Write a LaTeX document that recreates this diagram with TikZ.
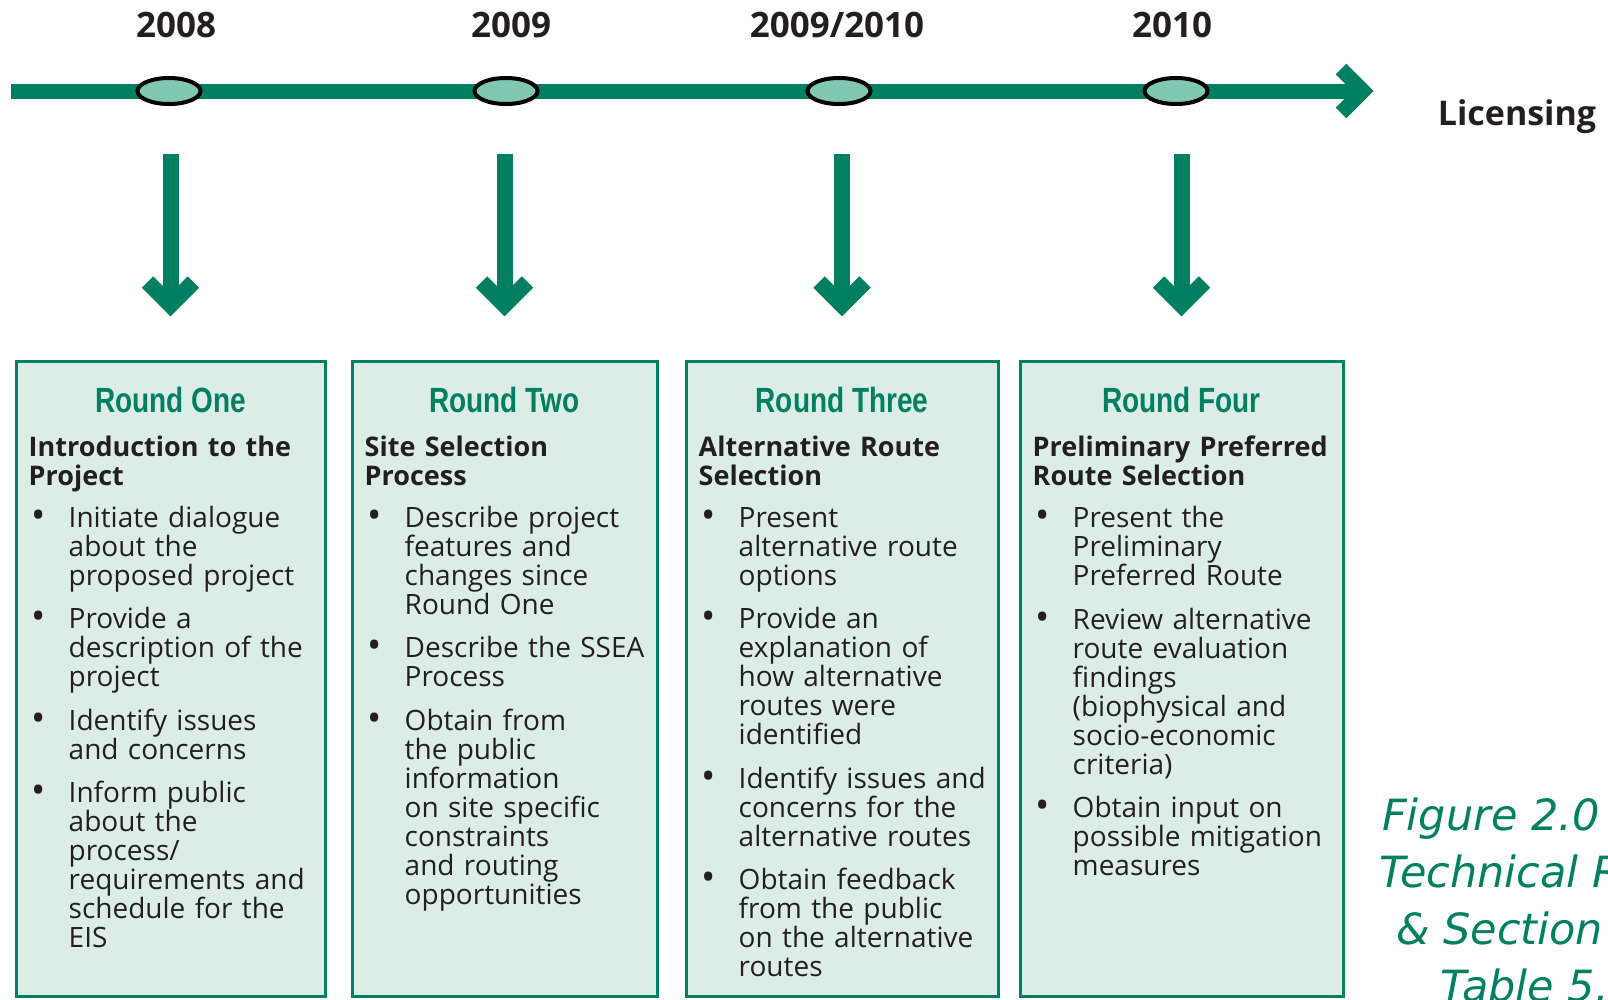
\documentclass[tikz,border=0pt]{standalone}
\usepackage{fontspec}
\setmainfont{Open Sans}
\newfontfamily\condfont[FakeStretch=0.8]{Liberation Sans}
\newfontfamily\capfont{DejaVu Sans}
\usetikzlibrary{positioning,shapes.geometric}
\definecolor{routegreen}{RGB}{0,128,96}
\definecolor{markfill}{RGB}{127,199,176}
\definecolor{panelfill}{RGB}{220,237,231}
\definecolor{inkgray}{RGB}{35,31,32}

% panel text: bold heading, then bullets with a hanging block
\newcommand{\rndhead}[1]{{\fontsize{27}{29}\selectfont\bfseries #1\par}\vspace{13pt}}
\newcommand{\rnditem}[1]{\noindent
	\makebox[40pt][l]{\hspace{3pt}\raisebox{-1pt}{\fontsize{38}{29}\selectfont\textbullet}}%
	\parbox[t]{262pt}{\raggedright #1\strut}\par\vspace{12.3pt}}

\tikzset{
	timeline/.style={draw=routegreen,line width=15pt},
	downarrow/.style={draw=routegreen,line width=16pt,line join=miter},
	marker/.style={shape=ellipse,draw=black,fill=markfill,line width=4pt,
				   minimum width=63pt,minimum height=26pt,inner sep=0pt},
	year/.style={text=inkgray,font=\fontsize{35}{40}\selectfont\bfseries,inner sep=0pt},
	panel/.style={shape=rectangle,draw=routegreen,fill=panelfill,line width=3pt,
				  anchor=north west,minimum height=635pt,inner sep=0pt},
	rndtitle/.style={text=routegreen,font=\condfont\bfseries\fontsize{35}{40}\selectfont,inner sep=0pt},
	rndtext/.style={text=inkgray,font=\fontsize{28}{29}\selectfont,align=left,inner sep=0pt},
	caption/.style={text=routegreen,font=\capfont\itshape\fontsize{43}{50}\selectfont,
					anchor=base west,inner sep=0pt}
}

\begin{document}
\begin{tikzpicture}[x=1pt,y=1pt]
		\clip (0,0) rectangle (1608,-999);

		% time axis with its open head
		\coordinate (axstart) at (11,-91);
		\coordinate (axend) at (1363,-91);
		\draw[timeline] (axstart) -- (axend);
		\draw[timeline,line join=miter] ([shift={(-22,22)}]axend) -- (axend) -- ([shift={(-22,-22)}]axend);

		\node[marker] (mk1) at (169,-91) {};
		\node[marker] (mk2) at (506,-91) {};
		\node[marker] (mk3) at (839,-91) {};
		\node[marker] (mk4) at (1176,-91) {};

		\node[year] (yr1) at (176,-25) {2008};
		\node[year] (yr2) at (511,-25) {2009};
		\node[year] (yr3) at (837,-25) {2009/2010};
		\node[year] (yr4) at (1172,-25) {2010};
		\node[year,font=\fontsize{34}{40}\selectfont\bfseries] (lic) at (1517,-117) {Licensing};

		% the four rounds
		\node[panel,minimum width=309pt] (box1) at (14.5,-360) {};
		\node[panel,minimum width=305pt] (box2) at (350.5,-360) {};
		\node[panel,minimum width=312pt] (box3) at (684.5,-360) {};
		\node[panel,minimum width=323pt] (box4) at (1018.5,-360) {};

		\node[rndtitle] (ttl1) at ([yshift=-40pt]box1.north) {Round One};
		\node[rndtitle] (ttl2) at ([yshift=-40pt]box2.north) {Round Two};
		\node[rndtitle] (ttl3) at ([yshift=-40pt]box3.north) {Round Three};
		\node[rndtitle] (ttl4) at ([yshift=-40pt]box4.north) {Round Four};

		\node[rndtext,text width=294pt,below right=76pt and 14pt of box1.north west] (txt1) {%
			\rndhead{Introduction to the\\Project}
			\rnditem{Initiate dialogue\\about the\\proposed project}
			\rnditem{Provide a\\description of the\\project}
			\rnditem{Identify issues\\and concerns}
			\rnditem{Inform public\\about the\\process/\\requirements and\\schedule for the\\EIS}};
		\node[rndtext,text width=290pt,below right=76pt and 14pt of box2.north west] (txt2) {%
			\rndhead{Site Selection\\Process}
			\rnditem{Describe project\\features and\\changes since\\Round One}
			\rnditem{Describe the SSEA\\Process}
			\rnditem{Obtain from\\the public\\information\\on site specific\\constraints\\and routing\\opportunities}};
		\node[rndtext,text width=297pt,below right=76pt and 14pt of box3.north west] (txt3) {%
			\rndhead{Alternative Route\\Selection}
			\rnditem{Present\\alternative route\\options}
			\rnditem{Provide an\\explanation of\\how alternative\\routes were\\identified}
			\rnditem{Identify issues and\\concerns for the\\alternative routes}
			\rnditem{Obtain feedback\\from the public\\on the alternative\\routes}};
		\node[rndtext,text width=308pt,below right=76pt and 14pt of box4.north west] (txt4) {%
			\rndhead{Preliminary Preferred\\Route Selection}
			\rnditem{Present the\\Preliminary\\Preferred Route}
			\rnditem{Review alternative\\route evaluation\\findings\\(biophysical and\\socio-economic\\criteria)}
			\rnditem{Obtain input on\\possible mitigation\\measures}};

		% arrows from the axis down to each round
		\foreach \b in {1,...,4}{
			\draw[downarrow] ([yshift=206pt]box\b.north) -- ([yshift=55pt]box\b.north);
			\draw[downarrow] ([shift={(-23pt,78pt)}]box\b.north) -- ([yshift=55pt]box\b.north)
				-- ([shift={(23pt,78pt)}]box\b.north);
		}

		\node[caption] (cap1) at (1382,-830) {Figure 2.0};
		\node[caption] (cap2) at (1379,-887) {Technical R};
		\node[caption] (cap3) at (1396,-944) {\& Section};
		\node[caption] (cap4) at (1440,-1001) {Table 5.};
\end{tikzpicture}
\end{document}
